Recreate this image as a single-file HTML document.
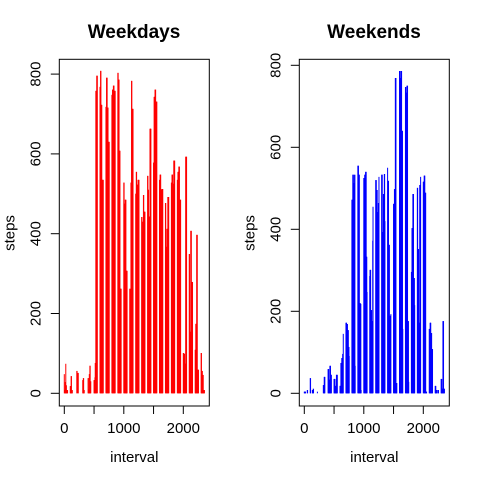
<!DOCTYPE html>
<html><head><meta charset="utf-8"><style>
body{margin:0;background:#fff}
svg{display:block;font-family:"Liberation Sans",Arial,sans-serif}
</style></head><body>
<svg id="chart" width="480" height="480">
<text x="134" y="38" font-size="19" font-weight="bold" text-anchor="middle">Weekdays</text>
<text x="374" y="38" font-size="19" font-weight="bold" text-anchor="middle">Weekends</text>
<g id="p1"></g>
<g id="p2"></g>
</svg>
<script>
const weekdaySteps = [
48,8,8,28,28,74,20,20,8,8,8,8,
18,18,18,43,43,8,8,8,0,0,0,0,
0,0,56,56,0,0,51,51,0,0,0,0,
0,0,33,33,38,38,8,8,0,0,0,0,
38,38,10,10,48,48,69,69,30,30,0,0,
33,33,33,40,76,76,758,758,758,796,796,796,
768,768,808,808,723,723,723,535,535,535,535,535,
718,718,791,791,791,716,716,716,630,630,630,630,
748,748,761,761,761,771,771,771,758,758,758,758,
803,803,786,786,786,608,608,608,262,262,262,262,
528,528,475,475,475,485,485,485,307,307,307,307,
262,262,199,199,528,528,783,783,713,713,713,713,
500,500,555,555,520,520,523,523,535,535,535,535,
442,442,405,405,430,430,497,497,455,455,455,455,
545,545,510,510,443,443,441,441,663,663,663,663,
578,578,743,743,743,761,761,761,731,731,731,731,
535,535,548,548,548,510,510,510,512,512,512,512,
477,477,367,367,367,412,412,412,492,492,492,492,
528,528,548,548,548,525,525,525,583,583,583,583,
535,535,555,555,555,568,568,568,485,485,485,485,
101,101,99,99,99,74,74,74,593,593,593,593,
349,349,154,154,154,407,407,407,279,279,279,279,
109,109,174,174,174,397,397,397,59,59,59,59,
101,101,56,56,56,46,46,46,8,8,8,8];
const weekendSteps = [
4,4,4,4,4,0,0,0,0,0,8,8,
37,37,0,0,0,0,0,8,8,8,11,11,
0,0,0,0,4,0,0,0,0,0,0,0,
0,0,0,0,20,20,20,40,40,40,0,0,
59,59,59,33,33,33,67,67,67,45,45,45,
35,35,35,35,18,18,18,18,45,45,45,45,
18,18,18,74,74,74,86,86,86,96,96,145,
172,172,172,169,169,169,154,154,154,113,113,91,
472,472,472,533,533,533,513,513,513,533,533,67,
555,555,555,533,533,533,220,220,220,218,218,8,
525,525,525,533,533,533,540,540,540,333,333,247,
286,301,301,301,203,203,203,176,176,176,372,455,
520,520,520,496,496,496,442,442,442,464,464,528,
533,533,533,393,393,393,486,486,486,535,535,420,
550,518,518,518,362,362,362,189,189,189,25,193,
462,462,462,498,498,498,769,769,769,25,25,25,
786,786,769,769,769,786,786,786,640,640,640,157,
747,747,733,733,733,750,750,750,176,176,176,28,
296,296,403,403,403,486,486,486,281,281,281,215,
501,501,352,352,352,172,172,172,508,508,508,528,
516,516,516,531,531,531,489,489,489,4,4,4,
157,157,157,172,172,172,147,147,147,108,108,108,
18,18,18,8,8,8,0,0,0,8,8,8,
35,35,35,11,11,11,176,176,176,11,11,11];
const yTicks = [0,200,400,600,800];
const xTicks = [0,1000,2000];
const xMinorTicks = [0,500,1000,1500,2000];

const NS='http://www.w3.org/2000/svg';
function mk(tag,attrs,parent,text){const e=document.createElementNS(NS,tag);for(const k in attrs)e.setAttribute(k,attrs[k]);if(text!==undefined)e.textContent=text;parent.appendChild(e);return e;}
const intervals=[];for(let h=0;h<24;h++)for(let m=0;m<60;m+=5)intervals.push(h*100+m);

function panel(g,steps,color,x0,yscale,yname){
  const xs=v=>x0+v*0.0595;
  const ys=s=>393.3-s*yscale;
  steps.forEach((s,i)=>{
    const iv = intervals[i];
    const l=mk('line',{x1:xs(iv),x2:xs(iv),y1:ys(0),y2:ys(s),stroke:color,'stroke-width':1},g);
    
    
  });
  const box=mk('rect',{x:x0-5,y:59.3,width:150,height:346.7,fill:'none',stroke:'#000','stroke-width':1},g);
  
  
  yTicks.forEach(t=>{
    const tk=mk('line',{x1:x0-13.5,x2:x0-5,y1:ys(t),y2:ys(t),stroke:'#000'},g);
    
    
    const tx=mk('text',{x:0,y:0,'font-size':15,'text-anchor':'middle',transform:`translate(${x0-24},${ys(t)}) rotate(-90)`},g,String(t));
    
    
  });
  xMinorTicks.forEach(t=>{
    const tk=mk('line',{x1:xs(t),x2:xs(t),y1:406,y2:414,stroke:'#000'},g);
    
    
  });
  xTicks.forEach(t=>{
    const tx=mk('text',{x:xs(t),y:433,'font-size':15,'text-anchor':'middle'},g,String(t));
    
    
  });
  const xt=mk('text',{x:x0+70,y:462,'font-size':15,'text-anchor':'middle'},g,'interval');
  
  
  const yt=mk('text',{x:0,y:0,'font-size':15,'text-anchor':'middle',transform:`translate(${x0-50},233) rotate(-90)`},g,'steps');
  
  
}
panel(document.getElementById('p1'),weekdaySteps,'#ff0000',64.3,0.399,'weekdays');
panel(document.getElementById('p2'),weekendSteps,'#0000ff',304.3,0.41,'weekends');
</script>
</body></html>
